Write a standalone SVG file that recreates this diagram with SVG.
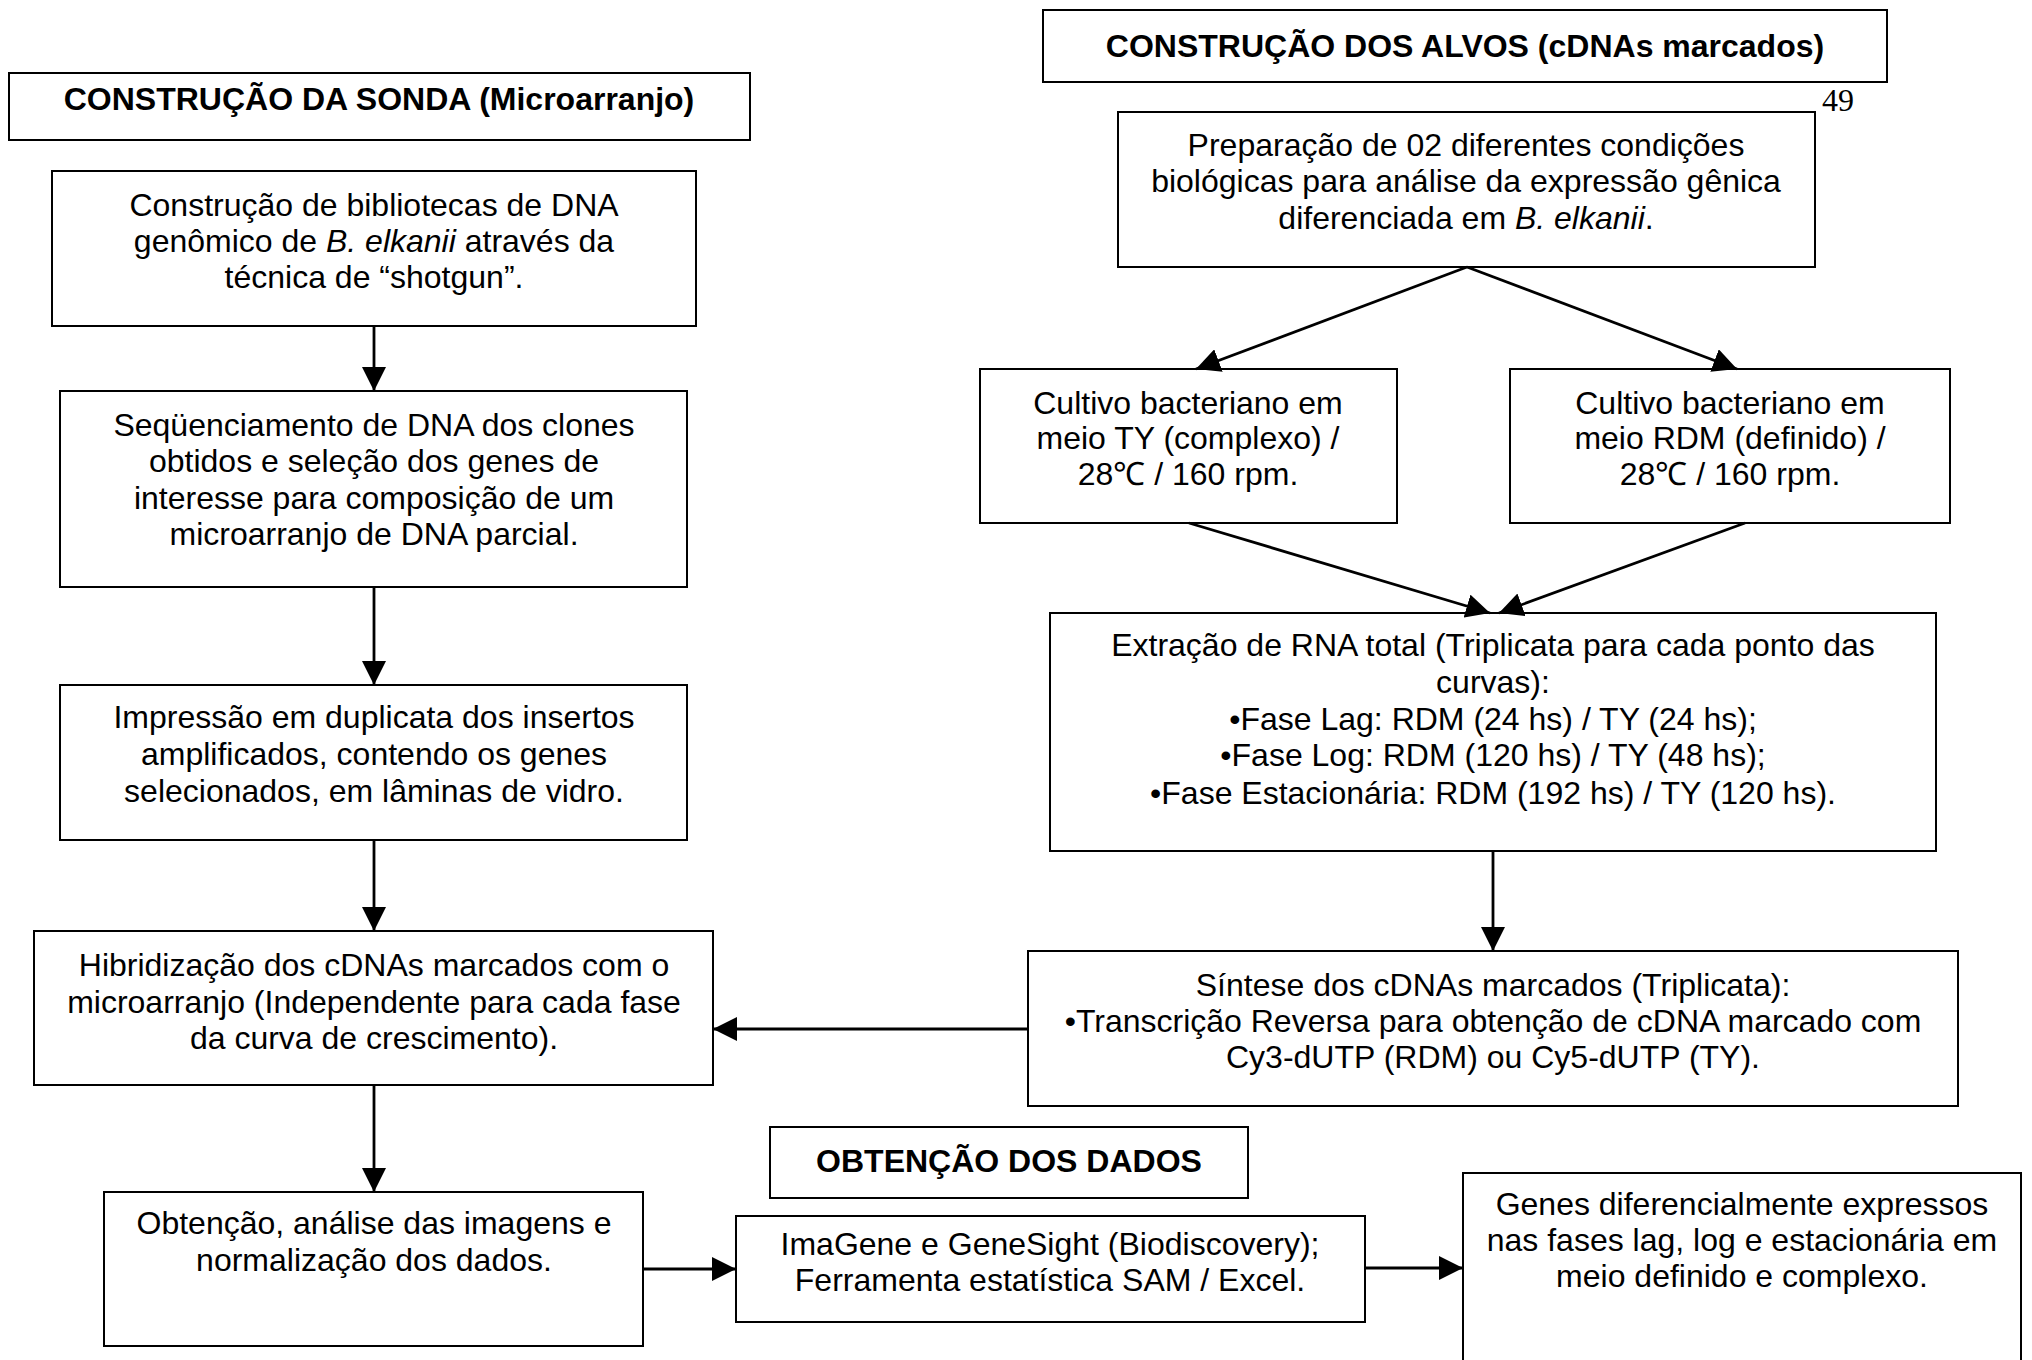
<svg xmlns="http://www.w3.org/2000/svg" width="2032" height="1360" viewBox="0 0 2032 1360">
<style>
.bx{fill:#fff;stroke:#000;stroke-width:2}
.t{font-family:"Liberation Sans",Arial,sans-serif;font-size:32px;fill:#000;text-anchor:middle}
.h{font-weight:bold}
.i{font-style:italic}
.c{fill:none;stroke:#000;stroke-width:2.8;marker-end:url(#ah)}
</style>
<defs>
<marker id="ah" markerUnits="userSpaceOnUse" markerWidth="24" markerHeight="24" refX="24" refY="12" orient="auto">
<path d="M0,0 L24,12 L0,24 z" fill="#000"/>
</marker>
</defs>
<rect width="2032" height="1360" fill="#fff"/>
<text x="1822" y="111" style="font-family:'Liberation Serif','Times New Roman',serif;font-size:32px">49</text>

<g id="hdr-sonda"><rect class="bx" x="9" y="73" width="741" height="67"/>
<text class="t h" x="379" y="110">CONSTRUÇÃO DA SONDA (Microarranjo)</text></g>

<g id="hdr-alvos"><rect class="bx" x="1043" y="10" width="844" height="72"/>
<text class="t h" x="1465" y="57">CONSTRUÇÃO DOS ALVOS (cDNAs marcados)</text></g>

<g id="hdr-dados"><rect class="bx" x="770" y="1127" width="478" height="71"/>
<text class="t h" x="1009" y="1172">OBTENÇÃO DOS DADOS</text></g>

<g id="n1"><rect class="bx" x="52" y="171" width="644" height="155"/>
<text class="t" x="374" y="216">Construção de bibliotecas de DNA</text>
<text class="t" x="374" y="252">genômico de <tspan class="i">B. elkanii</tspan> através da</text>
<text class="t" x="374" y="288">técnica de “shotgun”.</text></g>

<g id="n2"><rect class="bx" x="60" y="391" width="627" height="196"/>
<text class="t" x="374" y="436">Seqüenciamento de DNA dos clones</text>
<text class="t" x="374" y="472">obtidos e seleção dos genes de</text>
<text class="t" x="374" y="509">interesse para composição de um</text>
<text class="t" x="374" y="545">microarranjo de DNA parcial.</text></g>

<g id="n3"><rect class="bx" x="60" y="685" width="627" height="155"/>
<text class="t" x="374" y="728">Impressão em duplicata dos insertos</text>
<text class="t" x="374" y="765">amplificados, contendo os genes</text>
<text class="t" x="374" y="802">selecionados, em lâminas de vidro.</text></g>

<g id="n4"><rect class="bx" x="34" y="931" width="679" height="154"/>
<text class="t" x="374" y="976">Hibridização dos cDNAs marcados com o</text>
<text class="t" x="374" y="1013">microarranjo (Independente para cada fase</text>
<text class="t" x="374" y="1049">da curva de crescimento).</text></g>

<g id="n5"><rect class="bx" x="104" y="1192" width="539" height="154"/>
<text class="t" x="374" y="1234">Obtenção, análise das imagens e</text>
<text class="t" x="374" y="1271">normalização dos dados.</text></g>

<g id="n6"><rect class="bx" x="736" y="1216" width="629" height="106"/>
<text class="t" x="1050" y="1255">ImaGene e GeneSight (Biodiscovery);</text>
<text class="t" x="1050" y="1291">Ferramenta estatística SAM / Excel.</text></g>

<g id="n7"><rect class="bx" x="1463" y="1173" width="558" height="200"/>
<text class="t" x="1742" y="1215">Genes diferencialmente expressos</text>
<text class="t" x="1742" y="1251">nas fases lag, log e estacionária em</text>
<text class="t" x="1742" y="1287">meio definido e complexo.</text></g>

<g id="nP"><rect class="bx" x="1118" y="112" width="697" height="155"/>
<text class="t" x="1466" y="156">Preparação de 02 diferentes condições</text>
<text class="t" x="1466" y="192">biológicas para análise da expressão gênica</text>
<text class="t" x="1466" y="229">diferenciada em <tspan class="i">B. elkanii</tspan>.</text></g>

<g id="nTY"><rect class="bx" x="980" y="369" width="417" height="154"/>
<text class="t" x="1188" y="414">Cultivo bacteriano em</text>
<text class="t" x="1188" y="449">meio TY (complexo) /</text>
<text class="t" x="1188" y="485">28℃ / 160 rpm.</text></g>

<g id="nRDM"><rect class="bx" x="1510" y="369" width="440" height="154"/>
<text class="t" x="1730" y="414">Cultivo bacteriano em</text>
<text class="t" x="1730" y="449">meio RDM (definido) /</text>
<text class="t" x="1730" y="485">28℃ / 160 rpm.</text></g>

<g id="nExt"><rect class="bx" x="1050" y="613" width="886" height="238"/>
<text class="t" x="1493" y="656">Extração de RNA total (Triplicata para cada ponto das</text>
<text class="t" x="1493" y="693">curvas):</text>
<text class="t" x="1493" y="730">•Fase Lag: RDM (24 hs) / TY (24 hs);</text>
<text class="t" x="1493" y="766">•Fase Log: RDM (120 hs) / TY (48 hs);</text>
<text class="t" x="1493" y="804">•Fase Estacionária: RDM (192 hs) / TY (120 hs).</text></g>

<g id="nSin"><rect class="bx" x="1028" y="951" width="930" height="155"/>
<text class="t" x="1493" y="996">Síntese dos cDNAs marcados (Triplicata):</text>
<text class="t" x="1493" y="1032">•Transcrição Reversa para obtenção de cDNA marcado com</text>
<text class="t" x="1493" y="1068">Cy3-dUTP (RDM) ou Cy5-dUTP (TY).</text></g>

<g id="connectors">
<path class="c" d="M374,326 V391"/>
<path class="c" d="M374,587 V685"/>
<path class="c" d="M374,840 V931"/>
<path class="c" d="M374,1085 V1192"/>
<path class="c" d="M643,1269 H736"/>
<path class="c" d="M1365,1268 H1463"/>
<path class="c" d="M1028,1029 H713"/>
<path class="c" d="M1467,267 L1196,369"/>
<path class="c" d="M1467,267 L1737,369"/>
<path class="c" d="M1189,523 L1490,613"/>
<path class="c" d="M1745,523 L1499,613"/>
<path class="c" d="M1493,851 V951"/>
</g>
</svg>
